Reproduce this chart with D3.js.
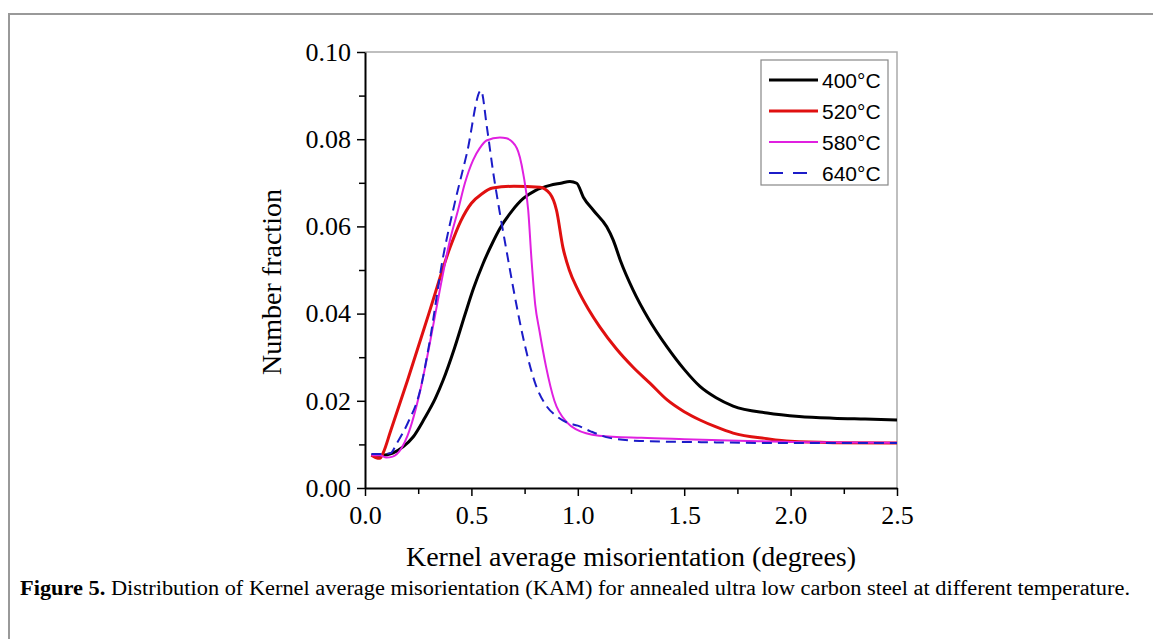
<html>
<head>
<title>KAM distribution</title>
<script src="https://d3js.org/d3.v7.min.js"></script>
<style>
  body { margin: 0; background: #fff; }
</style>
</head>
<body>
<svg class="chart"></svg>
<script>

    // series values
    var labels = ['400°C', '520°C', '580°C', '640°C'];

    var x400 = [0.03,0.08,0.13,0.18,0.226,0.28,0.33,0.367,0.42,0.47,0.51,0.555,0.6,0.634,0.69,0.744,0.8,0.869,0.92,0.963,0.995,1.026,1.073,1.136,1.167,1.2,1.26,1.33,1.42,1.5,1.574,1.65,1.73,1.89,2.04,2.2,2.35,2.5];
    var y400 = [0.0075,0.0075,0.008,0.0095,0.0117,0.016,0.0205,0.0247,0.032,0.0398,0.0458,0.0515,0.0563,0.0595,0.0635,0.0664,0.0682,0.0694,0.0699,0.0703,0.0699,0.0667,0.0637,0.0599,0.0568,0.0522,0.0454,0.039,0.0323,0.0272,0.0233,0.0207,0.0188,0.0172,0.0164,0.016,0.0158,0.0156];

    var x520 = [0.03,0.05,0.07,0.085,0.12,0.2,0.3,0.4,0.45,0.5,0.55,0.6,0.7,0.822,0.869,0.9,0.93,0.96,1.0,1.05,1.104,1.18,1.26,1.34,1.42,1.5,1.574,1.65,1.73,1.89,2.0,2.2,2.5];
    var y520 = [0.0075,0.007,0.0068,0.008,0.013,0.0247,0.04,0.0552,0.0612,0.0653,0.0675,0.0688,0.0692,0.069,0.0675,0.0637,0.0552,0.05,0.0455,0.041,0.0369,0.032,0.0277,0.024,0.0202,0.0175,0.0156,0.014,0.0126,0.0113,0.0107,0.0104,0.0103];

    var x580 = [0.03,0.07,0.1,0.13,0.17,0.2,0.258,0.3,0.35,0.4,0.437,0.47,0.508,0.54,0.571,0.634,0.665,0.713,0.744,0.767,0.783,0.8,0.82,0.85,0.89,0.95,0.99,1.1,1.3,1.5,1.8,2.1,2.5];
    var y580 = [0.0075,0.0075,0.007,0.0072,0.009,0.012,0.022,0.032,0.045,0.057,0.0637,0.07,0.0752,0.078,0.0797,0.0804,0.0802,0.078,0.072,0.0637,0.052,0.042,0.036,0.028,0.02,0.015,0.0135,0.012,0.0115,0.0112,0.0108,0.0105,0.0104];

    var x640 = [0.03,0.08,0.12,0.15,0.2,0.258,0.3,0.367,0.42,0.479,0.545,0.573,0.603,0.634,0.667,0.7,0.75,0.8,0.85,0.9,0.95,1.0,1.06,1.15,1.29,1.6,2.0,2.5];
    var y640 = [0.0078,0.0078,0.008,0.0103,0.0148,0.0222,0.0325,0.053,0.065,0.0768,0.0912,0.0827,0.0722,0.063,0.0539,0.045,0.033,0.024,0.019,0.0165,0.015,0.0143,0.013,0.0115,0.0108,0.0105,0.0103,0.0103];

    var xTicks = [0, 0.5, 1.0, 1.5, 2.0, 2.5];
    var yTicks = [0, 0.02, 0.04, 0.06, 0.08, 0.10];

    var colors = ['#000000', '#e01010', '#e020e0', '#1c1cc8'];
    var widths = [3, 3, 2, 2];
    var dashes = [null, null, null, '10,6'];

    var series = [[x400, y400], [x520, y520], [x580, y580], [x640, y640]].map(function (s, i) {
        return { label: labels[i], pts: s[0].map(function (x, j) { return [x, s[1][j]]; }) };
    });

    var svgWidth = 1153, svgHeight = 639;
    var plotLeft = 365, plotRight = 897, plotTop = 52, plotBottom = 488;

    var svg = d3.select('svg')
        .attr('width', svgWidth)
        .attr('height', svgHeight);

    // outer figure frame
    svg.append('path')
        .attr('d', 'M9,' + svgHeight + ' V14 H' + svgWidth)
        .attr('fill', 'none')
        .attr('stroke', '#999')
        .attr('stroke-width', 2);

    var xScale = d3.scaleLinear().domain([0, 2.5]).range([plotLeft, plotRight]);
    var yScale = d3.scaleLinear().domain([0, 0.1]).range([plotBottom, plotTop]);

    // light top/right frame of the plot
    svg.append('path')
        .attr('d', 'M' + plotLeft + ',' + plotTop + ' H' + plotRight + ' V' + plotBottom)
        .attr('fill', 'none')
        .attr('stroke', '#aaa')
        .attr('stroke-width', 1.5);

    var line = d3.line()
        .x(function (d) { return xScale(d[0]); })
        .y(function (d) { return yScale(d[1]); })
        .curve(d3.curveMonotoneX);

    svg.selectAll('path.series')
        .data(series)
        .enter()
        .append('path')
        .attr('class', 'series')
        .attr('d', function (d) { return line(d.pts); })
        .attr('fill', 'none')
        .attr('stroke', function (d, i) { return colors[i]; })
        .attr('stroke-width', function (d, i) { return widths[i]; })
        .attr('stroke-dasharray', function (d, i) { return dashes[i]; })
        .attr('stroke-linejoin', 'round');

    // axes
    var xAxis = svg.append('g')
        .attr('transform', 'translate(0,' + plotBottom + ')')
        .call(d3.axisBottom(xScale).tickValues(xTicks).tickFormat(d3.format('.1f')).tickSize(8).tickSizeOuter(0));
    svg.append('g')
        .attr('transform', 'translate(0,' + plotBottom + ')')
        .call(d3.axisBottom(xScale).tickValues([0.25, 0.75, 1.25, 1.75, 2.25]).tickFormat('').tickSize(6).tickSizeOuter(0))
        .select('.domain').remove();

    var yAxis = svg.append('g')
        .attr('transform', 'translate(' + plotLeft + ',0)')
        .call(d3.axisLeft(yScale).tickValues(yTicks).tickFormat(d3.format('.2f')).tickSize(8).tickSizeOuter(0));
    svg.append('g')
        .attr('transform', 'translate(' + plotLeft + ',0)')
        .call(d3.axisLeft(yScale).tickValues([0.01, 0.03, 0.05, 0.07, 0.09]).tickFormat('').tickSize(6).tickSizeOuter(0))
        .select('.domain').remove();

    svg.selectAll('.domain').attr('stroke', '#000').attr('stroke-width', 2);
    svg.selectAll('.tick line').attr('stroke', '#000').attr('stroke-width', 1.5);
    svg.selectAll('.tick text')
        .attr('font-family', 'Liberation Serif, serif')
        .attr('font-size', 26)
        .attr('fill', '#000');
    xAxis.selectAll('.tick text').attr('dy', '0.95em');
    yAxis.selectAll('.tick text').attr('x', -14);

    // axis titles
    svg.append('text')
        .text('Kernel average misorientation (degrees)')
        .attr('x', (plotLeft + plotRight) / 2)
        .attr('y', 566)
        .attr('text-anchor', 'middle')
        .attr('font-family', 'Liberation Serif, serif')
        .attr('font-size', 28);

    svg.append('text')
        .text('Number fraction')
        .attr('transform', 'translate(281,282) rotate(-90)')
        .attr('text-anchor', 'middle')
        .attr('font-family', 'Liberation Serif, serif')
        .attr('font-size', 28);

    // legend
    var legend = svg.append('g');
    legend.append('rect')
        .attr('x', 761).attr('y', 60)
        .attr('width', 127).attr('height', 125)
        .attr('fill', '#fff')
        .attr('stroke', '#888')
        .attr('stroke-width', 1.2);

    var rows = legend.selectAll('g.row')
        .data(series)
        .enter()
        .append('g')
        .attr('class', 'row')
        .attr('transform', function (d, i) { return 'translate(0,' + (80 + i * 31) + ')'; });

    rows.append('line')
        .attr('x1', 769).attr('x2', 818)
        .attr('y1', 0).attr('y2', 0)
        .attr('stroke', function (d, i) { return colors[i]; })
        .attr('stroke-width', function (d, i) { return widths[i]; })
        .attr('stroke-dasharray', function (d, i) { return dashes[i] ? '14,10,14,100' : null; });

    rows.append('text')
        .text(function (d) { return d.label; })
        .attr('x', 822)
        .attr('y', 8)
        .attr('font-family', 'Liberation Sans, Arial, sans-serif')
        .attr('font-size', 21);

    // caption
    var cap = svg.append('text')
        .attr('x', 20)
        .attr('y', 595)
        .attr('font-family', 'Liberation Serif, serif')
        .attr('font-size', 20)
        .attr('textLength', 1110)
        .attr('lengthAdjust', 'spacingAndGlyphs');
    cap.append('tspan').attr('font-weight', 'bold').text('Figure 5. ');
    cap.append('tspan').text('Distribution of Kernel average misorientation (KAM) for annealed ultra low carbon steel at different temperature.');

</script>
</body>
</html>
